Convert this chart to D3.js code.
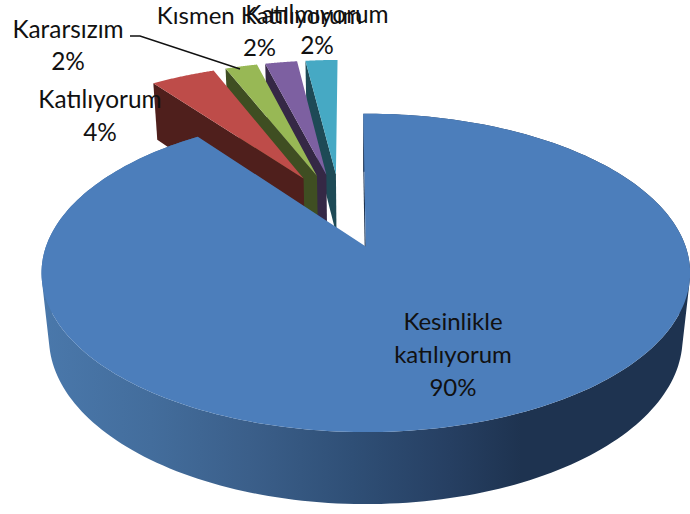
<!DOCTYPE html>
<html>
<head>
<meta charset="utf-8">
<script src="https://cdn.jsdelivr.net/npm/d3@7/dist/d3.min.js"></script>
<style>
html,body{margin:0;padding:0;background:#fff;overflow:hidden}
text{font-family:Lato,"Open Sans",sans-serif;fill:#111;text-anchor:middle}
</style>
</head>
<body>
<svg id="chart" width="690" height="514"></svg>
<script>
const categories = ["Kesinlikle katılıyorum","Katılıyorum","Kararsızım","Kısmen Katılıyorum","Katılmıyorum"];
const values = [90,4,2,2,2];
const topColors = ["#4c7ebb","#be4c49","#98b855","#7d60a1","#46a9c4"];
const wallColors = ["#2c4a70","#4f1f1c","#3f4e22","#352845","#1e4a56"];

const svg = d3.select("#chart");

// perspective camera for a unit-radius disk tilted away from the viewer
const cam = {cx:365, ay:247, R:320, B:155, k:0.166, m:0.023, D:66};
const project = (u,v,h) => {
  const w = 1 + cam.k*v + cam.m*h;
  return [cam.cx + cam.R*u/w, cam.ay - (cam.B*v - cam.D*h)/w];
};
const pieCentre = [-0.08, 0.25];
const explode = 0.26;

const start = -0.5*Math.PI/180;
const arcs = d3.pie().sort(null).value(d=>d).startAngle(start).endAngle(start+2*Math.PI)(values);
const topScale = d3.scaleOrdinal().domain(categories).range(topColors);
const wallScale = d3.scaleOrdinal().domain(categories).range(wallColors);
const line = d3.line().curve(d3.curveLinear);

const defs = svg.append("defs");
const grad = defs.append("linearGradient").attr("id","side")
  .attr("gradientUnits","userSpaceOnUse").attr("x1",41).attr("x2",690).attr("y1",0).attr("y2",0);
[[0,"#4a78ab"],[0.17,"#436d9c"],[0.32,"#3b5f8a"],[0.48,"#2f4f76"],[0.63,"#263f62"],[0.74,"#1e3350"],[1,"#1e3350"]]
  .forEach(s=>grad.append("stop").attr("offset",s[0]).attr("stop-color",s[1]));

const shapes = arcs.map((a,i)=>{
  const mid = (a.startAngle+a.endAngle)/2;
  const ou = pieCentre[0]+explode*Math.sin(mid), ov = pieCentre[1]+explode*Math.cos(mid);
  const n = i===0 ? 240 : 60;
  const rim = d3.range(0,n+1).map(j=>{
    const t = a.startAngle+(a.endAngle-a.startAngle)*j/n;
    return [ou+Math.sin(t), ov+Math.cos(t)];
  });
  return {i, name:categories[i], ou, ov, rim};
});

// far slices first, the big one last
[4,3,2,1,0].forEach(i=>{
  const s = shapes[i];
  const g = svg.append("g");
  const wallFill = wallScale(s.name);
  if(i===0){
    // outer wall: one path of same-orientation quads, so the fold stays filled without seams
    const quads = d3.pairs(s.rim).map(([p,q])=>{
      const quad = [project(p[0],p[1],0),project(q[0],q[1],0),project(q[0],q[1],1),project(p[0],p[1],1)];
      if(d3.polygonArea(quad)<0) quad.reverse();
      return line(quad)+"Z";
    }).join("");
    g.append("path").attr("d",quads).attr("fill","url(#side)");
    const first = s.rim[0];
    g.append("path").attr("d",line([project(s.ou,s.ov,0),project(first[0],first[1],0),project(first[0],first[1],1),project(s.ou,s.ov,1)])+"Z")
      .attr("fill","#1e3350");
  } else {
    const edge = s.rim[0];
    g.append("path").attr("d",line([project(s.ou,s.ov,0),project(edge[0],edge[1],0),project(edge[0],edge[1],1),project(s.ou,s.ov,1)])+"Z")
      .attr("fill",wallFill);
  }
  const top = [project(s.ou,s.ov,0)].concat(s.rim.map(p=>project(p[0],p[1],0)));
  g.append("path").attr("d",line(top)+"Z").attr("fill",topScale(s.name));
});

// leader line of the Kararsızım label
svg.append("path").attr("d",line([[130,36],[140,36],[240,69]]))
  .attr("fill","none").attr("stroke","#111").attr("stroke-width",1.4);

const pct = values.map(v=>v+"%");
const labels = [
  {x:453, lines:["Kesinlikle","katılıyorum",pct[0]], y:[330,363,396], size:24},
  {x:100, lines:["Katılıyorum",pct[1]], y:[108,141], size:24.4},
  {x:68,  lines:["Kararsızım",pct[2]], y:[38,70], size:24.4},
  {x:259.5, lines:["Kısmen Katılıyorum",pct[3]], y:[24,56], size:24},
  {x:317, lines:["Katılmıyorum",pct[4]], y:[23,54], size:24.4}
];
labels.forEach(l=>{
  l.lines.forEach((t,j)=>{
    svg.append("text").attr("x",l.x).attr("y",l.y[j]).attr("font-size",l.size).text(t);
  });
});
</script>
</body>
</html>
